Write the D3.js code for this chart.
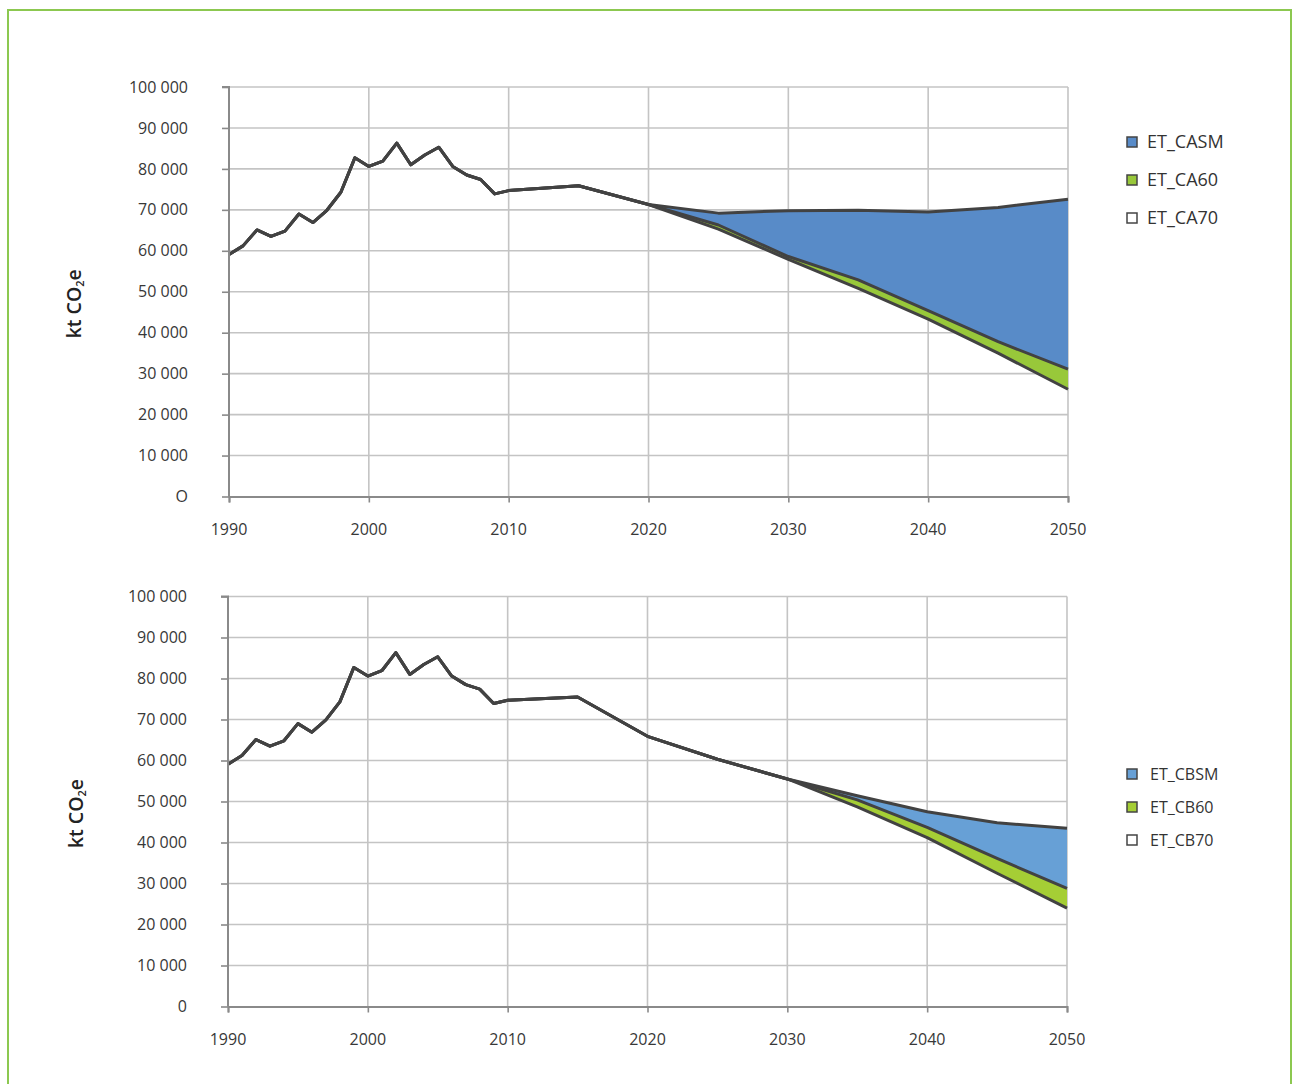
<!DOCTYPE html>
<html>
<head>
<meta charset="utf-8">
<script src="https://cdn.jsdelivr.net/npm/d3@7"></script>
<style>
  html, body { margin: 0; padding: 0; background: #fff; }
  svg { display: block; }
  text { font-family: "Open Sans", "DejaVu Sans", sans-serif; }
</style>
</head>
<body>
<svg id="chart" width="1293" height="1084"></svg>
<script>
// Historic emissions, 1990–2010 (kt CO2e), shared by both scenario groups
const histYears = [1990, 1991, 1992, 1993, 1994, 1995, 1996, 1997, 1998, 1999, 2000,
                   2001, 2002, 2003, 2004, 2005, 2006, 2007, 2008, 2009, 2010];
const histValues = [59100, 61200, 65100, 63500, 64800, 69000, 66900, 69900, 74300, 82700, 80600,
                    81900, 86300, 81000, 83400, 85300, 80600, 78500, 77400, 73900, 74700];

// Projection years
const projYears = [2015, 2020, 2025, 2030, 2035, 2040, 2045, 2050];

// Scenario group A
const ET_CASM = [75900, 71300, 69200, 69800, 69900, 69500, 70600, 72600];
const ET_CA60 = [75900, 71300, 66300, 58600, 52900, 45400, 37800, 31100];
const ET_CA70 = [75900, 71300, 65300, 57900, 50800, 43300, 35000, 26200];

// Scenario group B
const ET_CBSM = [75500, 65900, 60300, 55500, 51400, 47500, 44800, 43500];
const ET_CB60 = [75500, 65900, 60300, 55500, 50400, 43700, 36100, 28800];
const ET_CB70 = [75500, 65900, 60300, 55500, 48700, 41200, 32500, 24000];

// Axis ticks
const xTicks = [1990, 2000, 2010, 2020, 2030, 2040, 2050];
const yTicks = [0, 10000, 20000, 30000, 40000, 50000, 60000, 70000, 80000, 90000, 100000];
const yLabelsA = ["O", "10 000", "20 000", "30 000", "40 000", "50 000", "60 000", "70 000", "80 000", "90 000", "100 000"];
const yLabelsB = ["0", "10 000", "20 000", "30 000", "40 000", "50 000", "60 000", "70 000", "80 000", "90 000", "100 000"];

const svg = d3.select("#chart");

// outer frame
svg.append("rect")
  .attr("x", 8).attr("y", 10).attr("width", 1283).attr("height", 1090)
  .attr("fill", "none").attr("stroke", "#8cc850").attr("stroke-width", 2);

function series(vals) {
  return histYears.map((y, i) => ({ year: y, v: histValues[i] }))
    .concat(projYears.map((y, i) => ({ year: y, v: vals[i] })));
}

function drawPanel(cfg) {
  const x = d3.scaleLinear().domain([1990, 2050]).range([cfg.left, cfg.right]);
  const y = d3.scaleLinear().domain([0, 100000]).range([cfg.bottom, cfg.top]);
  const g = svg.append("g");

  // gridlines
  g.append("g").selectAll("line").data(yTicks.filter(d => d > 0)).join("line")
    .attr("x1", cfg.left).attr("x2", cfg.right)
    .attr("y1", d => y(d)).attr("y2", d => y(d))
    .attr("stroke", "#c4c4c4").attr("stroke-width", 1.6);
  g.append("g").selectAll("line").data(xTicks.filter(d => d > 1990)).join("line")
    .attr("x1", d => x(d)).attr("x2", d => x(d))
    .attr("y1", cfg.top).attr("y2", cfg.bottom)
    .attr("stroke", "#c4c4c4").attr("stroke-width", 1.6);

  const top = series(cfg.sm), mid = series(cfg.s60), base = series(cfg.s70);

  // blue band: between the 60 % pathway and the SM pathway
  const bandBlue = d3.area()
    .x(d => x(d.year)).y0((d, i) => y(mid[i].v)).y1(d => y(d.v));
  g.append("path").datum(top).attr("d", bandBlue).attr("fill", cfg.blue);

  // green band: between the 70 % pathway and the 60 % pathway
  const bandGreen = d3.area()
    .x(d => x(d.year)).y0((d, i) => y(base[i].v)).y1(d => y(d.v));
  g.append("path").datum(mid).attr("d", bandGreen).attr("fill", cfg.green);

  // series outlines
  const line = d3.line().x(d => x(d.year)).y(d => y(d.v));
  [top, mid, base].forEach(s => {
    g.append("path").datum(s).attr("d", line)
      .attr("fill", "none").attr("stroke", "#424242")
      .attr("stroke-width", 3).attr("stroke-linejoin", "round");
  });

  // axes
  const axisColor = "#8a8a8a";
  const yAxis = g.append("g").attr("transform", `translate(${cfg.left},0)`)
    .call(d3.axisLeft(y).tickValues(yTicks).tickSize(7).tickPadding(0).tickFormat(""));
  const xAxis = g.append("g").attr("transform", `translate(0,${cfg.bottom})`)
    .call(d3.axisBottom(x).tickValues(xTicks).tickSize(6).tickFormat(""));
  [yAxis, xAxis].forEach(a => {
    a.select(".domain").attr("stroke", axisColor).attr("stroke-width", 2);
    a.selectAll(".tick line").attr("stroke", axisColor).attr("stroke-width", 1.6);
  });
  yAxis.select(".domain").attr("d", `M-7,${cfg.top}H0V${cfg.bottom}`);

  // tick labels
  g.append("g").selectAll("text").data(yTicks).join("text")
    .attr("x", cfg.left - 41).attr("y", d => y(d)).attr("dy", "0.35em")
    .attr("text-anchor", "end").attr("font-size", 16).attr("fill", "#383838")
    .text((d, i) => cfg.yLabels[i]);
  g.append("g").selectAll("text").data(xTicks).join("text")
    .attr("x", d => x(d)).attr("y", cfg.bottom + 38)
    .attr("text-anchor", "middle").attr("font-size", 16).attr("fill", "#383838")
    .text(d => d);

  // axis title
  const t = g.append("text")
    .attr("transform", `translate(${cfg.titleX},${(cfg.top + cfg.bottom) / 2 + 12}) rotate(-90)`)
    .attr("text-anchor", "middle").attr("font-size", 19.5).attr("font-weight", 600)
    .attr("fill", "#222");
  t.append("tspan").text("kt CO");
  t.append("tspan").attr("font-size", 11).attr("dy", 3).text("2");
  t.append("tspan").attr("dy", -3).text("e");

  // legend
  const leg = g.append("g");
  cfg.legend.forEach((item, i) => {
    const ly = cfg.legendY + i * cfg.legendGap;
    leg.append("rect").attr("x", 1127).attr("y", ly - 5).attr("width", 10).attr("height", 10)
      .attr("fill", item.color).attr("stroke", "#444").attr("stroke-width", 1.5);
    leg.append("text").attr("x", cfg.legendTextX).attr("y", ly).attr("dy", "0.36em")
      .attr("font-size", cfg.legendSize).attr("fill", "#333").text(item.name);
  });
}

drawPanel({
  left: 229, right: 1068, top: 87, bottom: 496.5, titleX: 81,
  sm: ET_CASM, s60: ET_CA60, s70: ET_CA70,
  blue: "#588bc8", green: "#98c83a", yLabels: yLabelsA,
  legend: [{ name: "ET_CASM", color: "#588bc8" }, { name: "ET_CA60", color: "#98c83a" }, { name: "ET_CA70", color: "#ffffff" }],
  legendY: 142, legendGap: 38, legendTextX: 1147, legendSize: 18
});

drawPanel({
  left: 228, right: 1067, top: 596.5, bottom: 1006.5, titleX: 83,
  sm: ET_CBSM, s60: ET_CB60, s70: ET_CB70,
  blue: "#67a0d6", green: "#a5ce35", yLabels: yLabelsB,
  legend: [{ name: "ET_CBSM", color: "#67a0d6" }, { name: "ET_CB60", color: "#a5ce35" }, { name: "ET_CB70", color: "#ffffff" }],
  legendY: 774, legendGap: 33, legendTextX: 1150, legendSize: 16
});
</script>
</body>
</html>
